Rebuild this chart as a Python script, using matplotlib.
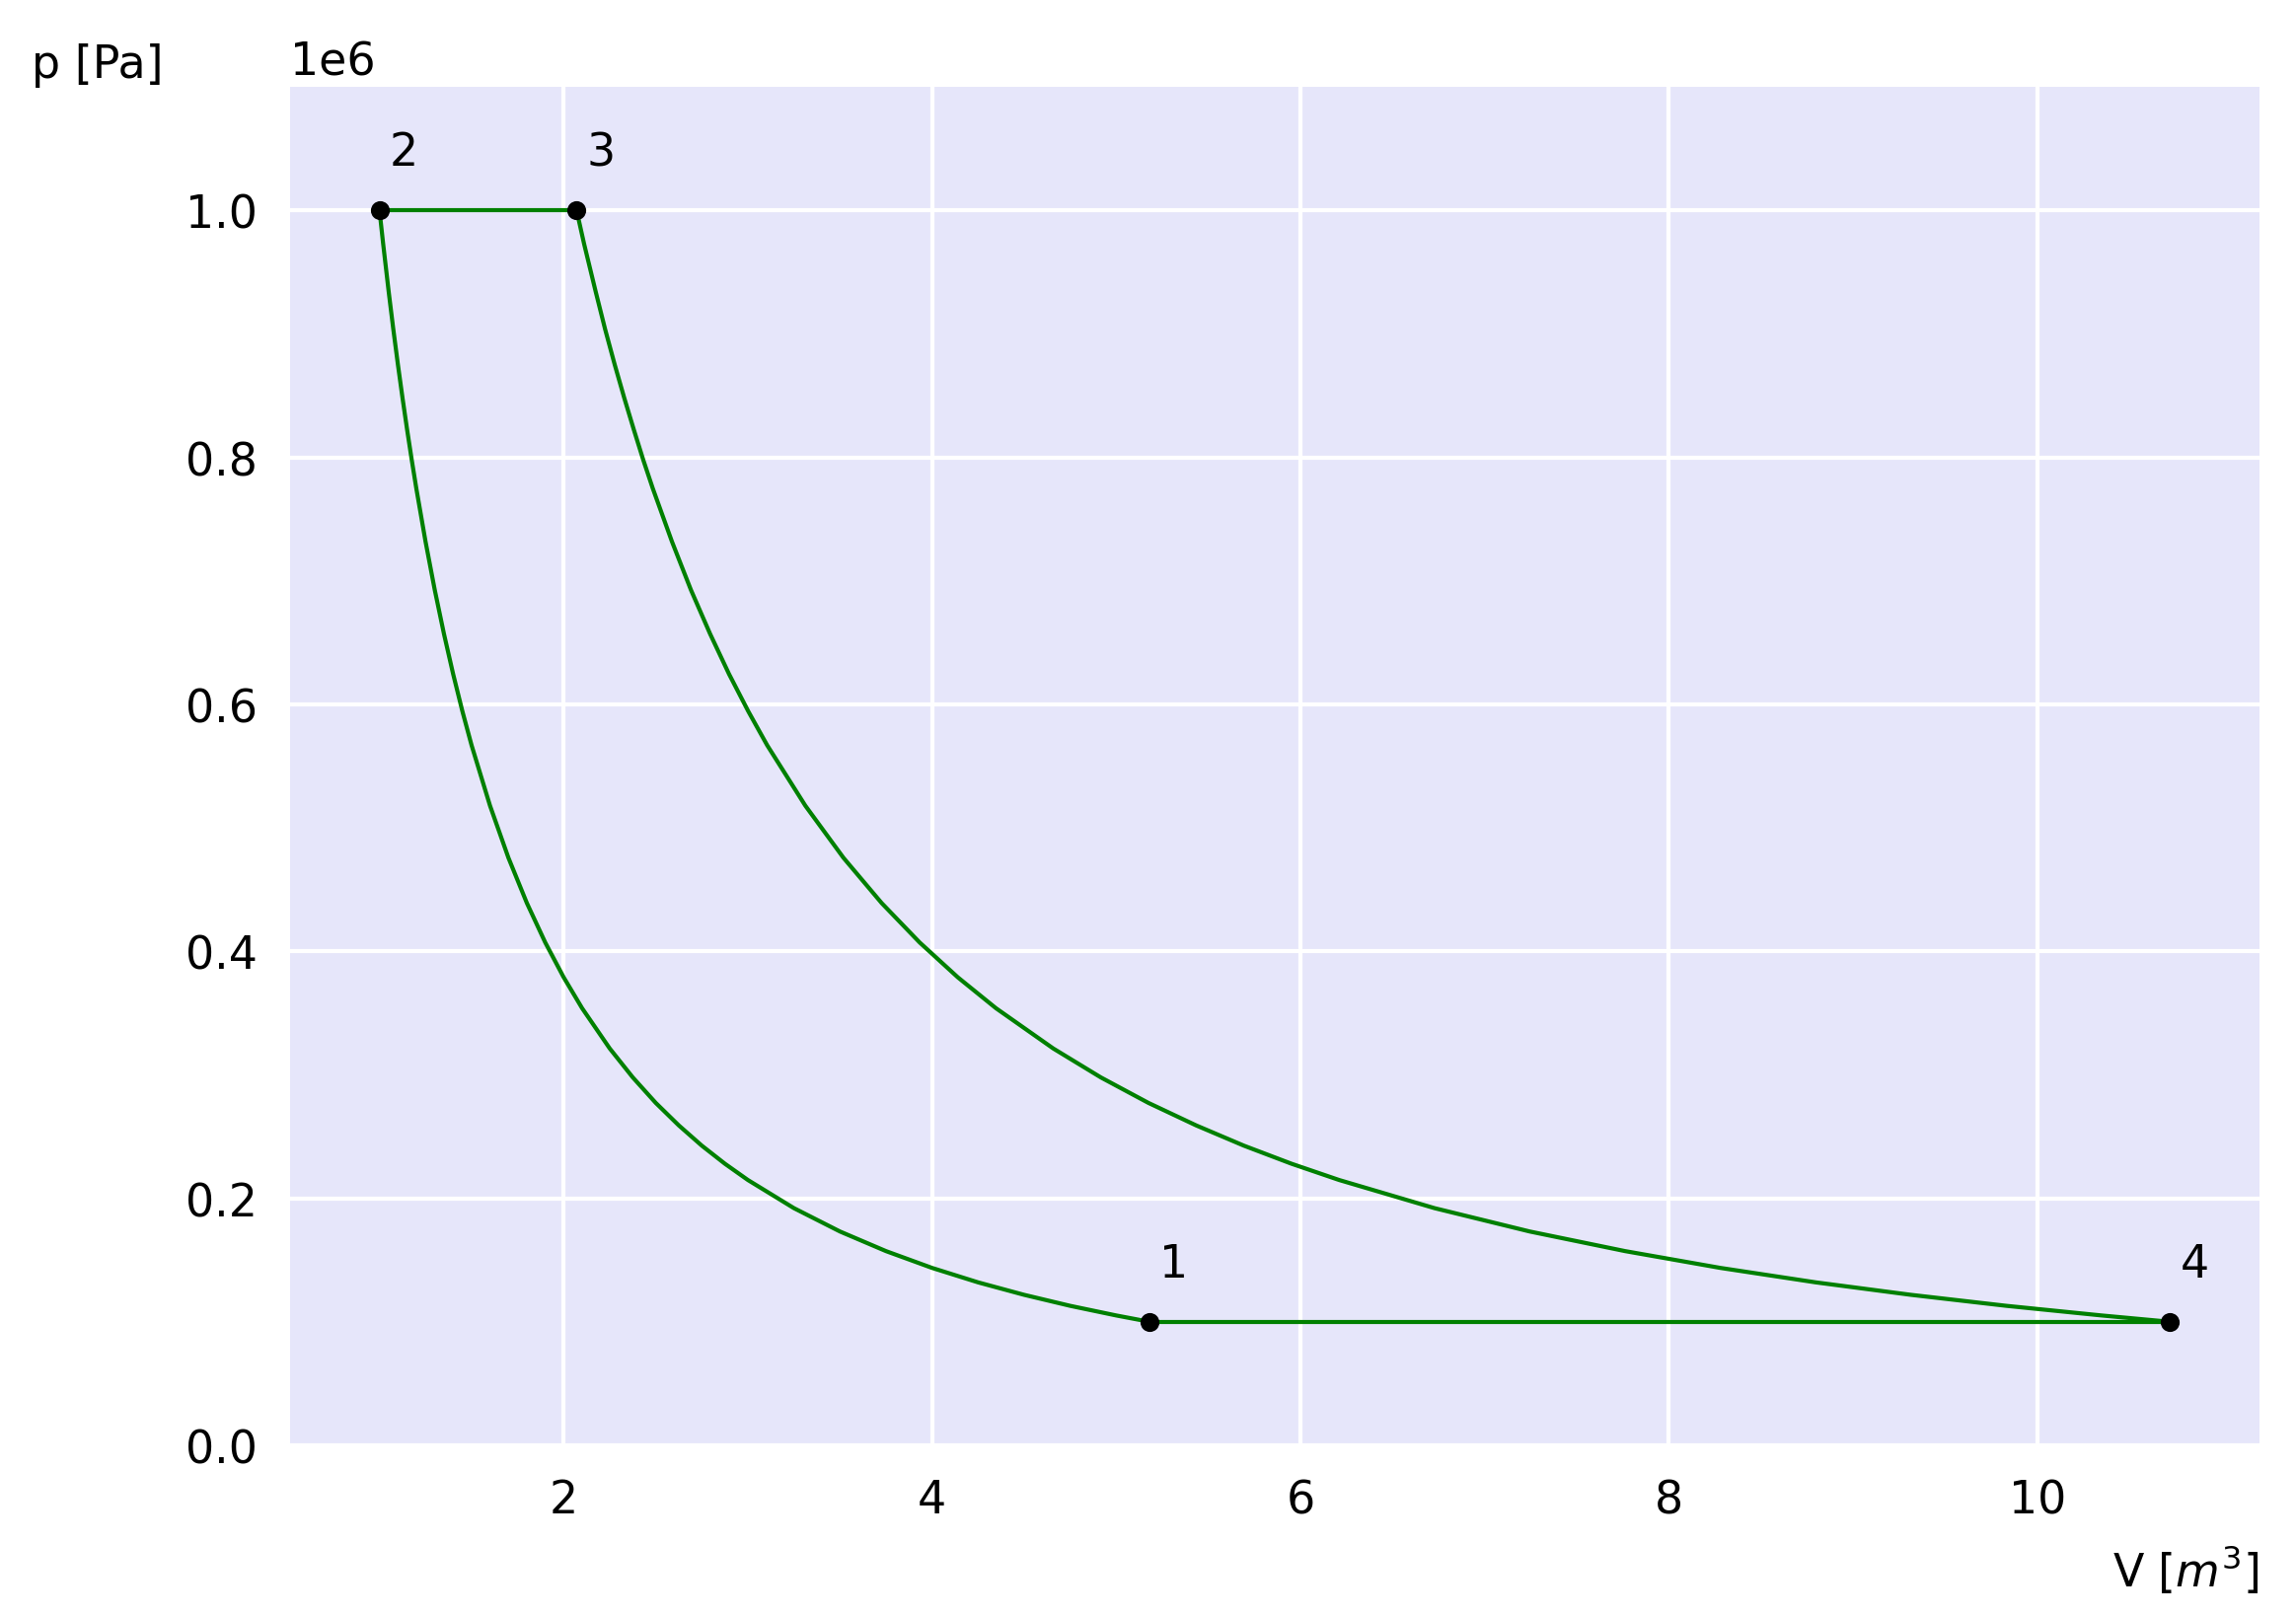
import matplotlib
matplotlib.use("Agg")
import matplotlib.pyplot as plt

# state points of the cycle
point_labels = ["1", "2", "3", "4"]
V_points = [5.18, 1.0, 2.07, 10.72]
p_points = [1.0e5, 1.0e6, 1.0e6, 1.0e5]

# compression 2 <- 1
V_12 = [1.0, 1.02, 1.05, 1.075, 1.1, 1.125, 1.15, 1.175, 1.2, 1.25, 1.3, 1.35, 1.4,
        1.45, 1.5, 1.6, 1.7, 1.8, 1.9, 2.0, 2.1, 2.25, 2.375, 2.5, 2.625, 2.75,
        2.875, 3.0, 3.25, 3.5, 3.75, 4.0, 4.25, 4.5, 4.75, 5.0, 5.18]
p_12 = [1.0000e6, 9.727e5, 9.340e5, 9.037e5, 8.751e5, 8.480e5, 8.223e5, 7.979e5,
        7.747e5, 7.317e5, 6.926e5, 6.570e5, 6.244e5, 5.944e5, 5.668e5, 5.179e5,
        4.757e5, 4.391e5, 4.071e5, 3.789e5, 3.539e5, 3.213e5, 2.979e5, 2.772e5,
        2.590e5, 2.426e5, 2.280e5, 2.148e5, 1.920e5, 1.731e5, 1.572e5, 1.436e5,
        1.319e5, 1.218e5, 1.129e5, 1.051e5, 1.000e5]

# expansion 3 -> 4
V_34 = [2.07, 2.111, 2.174, 2.225, 2.277, 2.329, 2.381, 2.432, 2.484, 2.588, 2.691,
        2.795, 2.898, 3.002, 3.105, 3.312, 3.519, 3.726, 3.933, 4.14, 4.347, 4.658,
        4.916, 5.175, 5.434, 5.693, 5.951, 6.21, 6.728, 7.245, 7.763, 8.28, 8.798,
        9.315, 9.833, 10.35, 10.72]
p_34 = [1.0000e6, 9.727e5, 9.340e5, 9.037e5, 8.751e5, 8.480e5, 8.223e5, 7.979e5,
        7.747e5, 7.317e5, 6.926e5, 6.570e5, 6.244e5, 5.944e5, 5.668e5, 5.179e5,
        4.757e5, 4.391e5, 4.071e5, 3.789e5, 3.539e5, 3.213e5, 2.979e5, 2.772e5,
        2.590e5, 2.426e5, 2.280e5, 2.148e5, 1.920e5, 1.731e5, 1.572e5, 1.436e5,
        1.319e5, 1.218e5, 1.129e5, 1.051e5, 1.000e5]

plt.rcParams['font.family'] = ['DejaVu Sans']
plt.rcParams['font.size'] = 11

fig = plt.figure(figsize=(2327 / 300, 1639 / 300), dpi=300)
ax = fig.add_axes([0.1263, 0.1056, 0.984 - 0.1263, 0.9457 - 0.1056])
ax.set_facecolor("lavender")
ax.grid(True, color="white", linewidth=1.0)
ax.set_axisbelow(True)
for s in ax.spines.values():
    s.set_visible(False)
ax.tick_params(length=0, pad=8, labelsize=11)

lw = 1.0
ax.plot(V_12, p_12, color="green", linewidth=lw)
ax.plot([V_points[1], V_points[2]], [p_points[1], p_points[2]], color="green", linewidth=lw)
ax.plot(V_34, p_34, color="green", linewidth=lw)
ax.plot([V_points[3], V_points[0]], [p_points[3], p_points[0]], color="green", linewidth=lw)
ax.plot(V_points, p_points, "o", color="black", markersize=3.6, linestyle="none")

for lab, v, p in zip(point_labels, V_points, p_points):
    ax.annotate(lab, (v, p), xytext=(2.5, 11), textcoords="offset points",
                ha="left", va="baseline", fontsize=11)

ax.set_xlim(0.514, 11.206)
ax.set_ylim(0, 1.1e6)
ax.set_xticks([2, 4, 6, 8, 10])
ax.set_yticks([0, 0.2e6, 0.4e6, 0.6e6, 0.8e6, 1.0e6])
ax.ticklabel_format(axis="y", style="sci", scilimits=(0, 0))

ax.set_xlabel("V [$m^3$]", fontsize=11)
ax.xaxis.set_label_coords(1.0, -0.0915)
ax.xaxis.label.set_ha("right")
ax.xaxis.label.set_va("center")

ax.set_ylabel("p [Pa]", fontsize=11, rotation=0)
ax.yaxis.set_label_coords(-0.0977, 1.016)
ax.yaxis.label.set_ha("center")
ax.yaxis.label.set_va("center")

fig.savefig("out.png", dpi=300)
